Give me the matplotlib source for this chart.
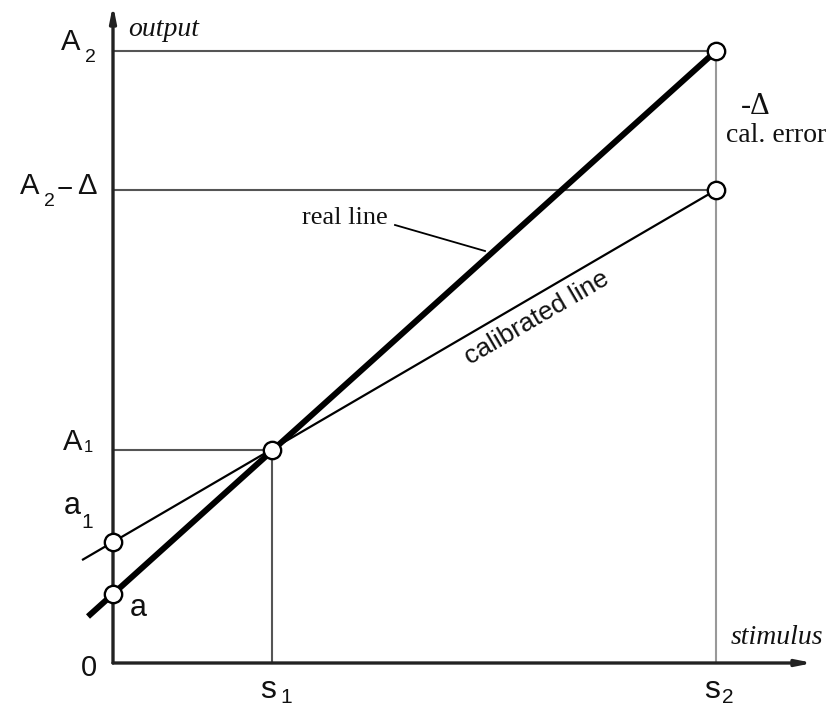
import numpy as np
import matplotlib
matplotlib.use("Agg")
import matplotlib.pyplot as plt

# ---- data (diagram values, in arbitrary units) ----
stim_labels = ["s", "s"]
stim_subs = ["1", "2"]
stim_vals = [1.59, 6.03]          # s1, s2
a_val = 0.69                       # real-line offset a
a1_val = 1.21                      # calibrated-line offset a1
A1_val = 2.13                      # output at s1
A2_val = 6.12                      # real output at s2
A2d_val = 4.73                     # A2 - Delta (calibrated output at s2)
ext_real = -0.25                   # extension to the left of the y axis
ext_cal = -0.30

s1, s2 = stim_vals

fig = plt.figure(figsize=(8.36, 7.08), dpi=100)
ax = fig.add_axes([0, 0, 1, 1])
ax.set_xlim(-1.13, 7.23)
ax.set_ylim(-0.45, 6.63)
ax.axis("off")

sans = "Liberation Sans"
serif = "Liberation Serif"

# reference (guide) lines
gcol = "#555555"
ax.plot([0, s2], [A2_val, A2_val], color=gcol, lw=1.5, zorder=1)
ax.plot([0, s2], [A2d_val, A2d_val], color=gcol, lw=1.5, zorder=1)
ax.plot([0, s1], [A1_val, A1_val], color=gcol, lw=1.5, zorder=1)
ax.plot([s1, s1], [0, A1_val], color=gcol, lw=1.5, zorder=1)
ax.plot([s2, s2], [0, A2_val], color="#999999", lw=1.5, zorder=1)

# axes with arrows
ax.annotate("", xy=(7.0, 0), xytext=(0, 0),
            arrowprops=dict(arrowstyle="-|>,head_length=0.9,head_width=0.18",
                            color="#222222", lw=2.4, shrinkA=0, shrinkB=0), zorder=3)
ax.annotate("", xy=(0, 6.58), xytext=(0, 0),
            arrowprops=dict(arrowstyle="-|>,head_length=0.9,head_width=0.18",
                            color="#222222", lw=2.4, shrinkA=0, shrinkB=0), zorder=3)

# real line (thick)
k_real = (A2_val - a_val) / s2
ax.plot([ext_real, 0, s2], [a_val + k_real * ext_real, a_val, A2_val],
        color="black", lw=4.3, solid_capstyle="butt", zorder=4)
# calibrated line (thin)
k_cal = (A2d_val - a1_val) / s2
ax.plot([ext_cal, 0, s2], [a1_val + k_cal * ext_cal, a1_val, A2d_val],
        color="black", lw=1.6, zorder=4)

# circles
cx = [0, 0, s1, s2, s2]
cy = [a_val, a1_val, A1_val, A2_val, A2d_val]
ax.plot(cx, cy, "o", ms=12.5, mfc="white", mec="black", mew=1.7, zorder=6, clip_on=False)

# ---- labels ----
def t(x, y, s, size, fam=sans, **kw):
    ax.text(x, y, s, fontsize=size, family=fam, ha="center", va="center",
            color="#111111", **kw)

# A2
t(-0.42, 6.21, "A", 21)
t(-0.225, 6.05, "2", 14)
# A2 - Delta
t(-0.83, 4.77, "A", 21)
t(-0.635, 4.61, "2", 14)
t(-0.485, 4.73, "\u2212", 20)
t(-0.26, 4.77, "\u0394", 21)
# A1
t(-0.405, 2.205, "A", 21)
t(-0.25, 2.16, "1", 12)
# a1
t(-0.41, 1.575, "a", 22)
t(-0.255, 1.40, "1", 15)
# a
t(0.25, 0.555, "a", 22)
# 0
t(-0.24, -0.05, "0", 21)
# s1, s2
t(1.555, -0.27, stim_labels[0], 23)
ax.text(1.73, -0.44, stim_subs[0], fontsize=15, family=sans, ha="center",
        va="bottom", color="#111111")
t(5.995, -0.275, stim_labels[1], 23)
ax.text(6.145, -0.44, stim_subs[1], fontsize=15, family=sans, ha="center",
        va="bottom", color="#111111")

# axis titles
t(0.51, 6.33, "output", 20, fam=serif, style="italic")
t(6.64, 0.25, "stimulus", 20, fam=serif, style="italic")

# calibration error
t(6.43, 5.57, "-\u0394", 22, fam=serif)
t(6.63, 5.28, "cal. error", 20, fam=serif)

# real line label with leader
t(2.32, 4.445, "real line", 19, fam=serif)
ax.plot([2.82, 3.72], [4.38, 4.12], color="black", lw=1.3, zorder=3)

# calibrated line label (parallel to the line)
ang = np.degrees(np.arctan(k_cal))
t(4.24, 3.45, "calibrated line", 19, rotation=ang)

fig.savefig("out.png", dpi=100, facecolor="white")
